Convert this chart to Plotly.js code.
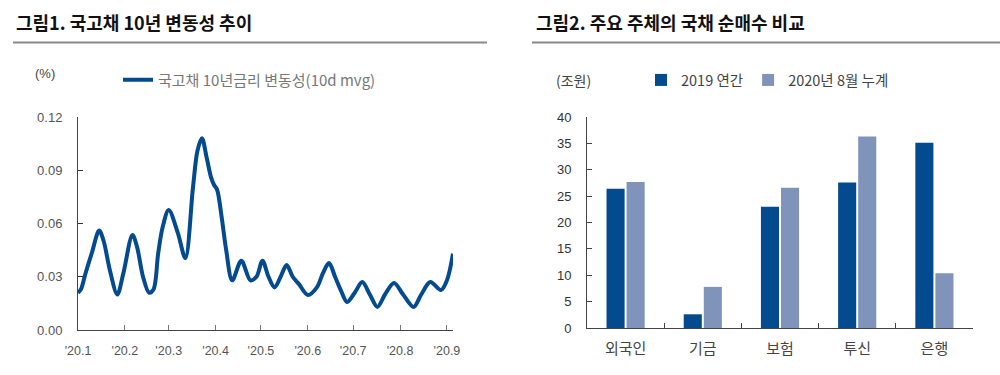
<!DOCTYPE html>
<html><head><meta charset="utf-8">
<script src="https://cdn.plot.ly/plotly-3.0.1.min.js"></script>
<style>html,body{margin:0;padding:0;background:#fff}#chart{width:1000px;height:375px}</style>
</head><body><div id="chart"></div>
<script>
// Figure 1: 10y KTB volatility (10d moving avg), %
const volDates = [
  '2020-01-01','2020-01-03','2020-01-06','2020-01-10','2020-01-15','2020-01-18','2020-01-22','2020-01-27','2020-01-31',
  '2020-02-06','2020-02-09','2020-02-13','2020-02-17','2020-02-20','2020-02-23','2020-02-26',
  '2020-03-01','2020-03-07','2020-03-12','2020-03-17','2020-03-20','2020-03-23','2020-03-26','2020-03-29','2020-03-31',
  '2020-04-02','2020-04-05','2020-04-08','2020-04-12','2020-04-18','2020-04-24','2020-04-28',
  '2020-05-02','2020-05-06','2020-05-10','2020-05-14','2020-05-18','2020-05-22','2020-05-26',
  '2020-06-01','2020-06-07','2020-06-11','2020-06-15','2020-06-19','2020-06-23','2020-06-27',
  '2020-07-02','2020-07-07','2020-07-12','2020-07-17','2020-07-22','2020-07-28',
  '2020-08-03','2020-08-10','2020-08-15','2020-08-21','2020-08-28','2020-09-01','2020-09-05'
];
const volValues = [
  0.021,0.023,0.032,0.043,0.056,0.050,0.034,0.020,0.032,
  0.0535,0.047,0.030,0.021,0.023,0.043,0.058,
  0.0676,0.0547,0.0405,0.080,0.101,0.108,0.0975,0.086,0.0817,
  0.079,0.0636,0.045,0.028,0.039,0.028,0.030,
  0.039,0.030,0.024,0.030,0.0366,0.030,0.026,
  0.0197,0.024,0.032,0.0377,0.030,0.022,0.0158,
  0.021,0.027,0.020,0.013,0.020,0.0265,
  0.020,0.013,0.020,0.027,0.0225,0.028,0.043
];
const monthTickVals = ['2020-01-01','2020-02-01','2020-03-01','2020-04-01','2020-05-01','2020-06-01','2020-07-01','2020-08-01','2020-09-01'];
const monthTickText = ["'20.1","'20.2","'20.3","'20.4","'20.5","'20.6","'20.7","'20.8","'20.9"];
const volTickVals = [0, 0.03, 0.06, 0.09, 0.12];

// Figure 2: net purchases of government bonds by investor (trillion KRW)
const categories = ['외국인','기금','보험','투신','은행'];
const buy2019 = [26.4, 2.6, 23.0, 27.6, 35.1];
const buy2020Aug = [27.7, 7.8, 26.6, 36.3, 10.4];

const DARK = '#034a8e';
const LIGHT = '#7f93bb';
const KFONT = '"Noto Sans CJK KR", "Noto Sans", sans-serif';
const NFONT = '"Liberation Sans", Arial, sans-serif';

const traces = [
  {x: volDates, y: volValues, type: 'scatter', mode: 'lines', name: '국고채 10년금리 변동성(10d mvg)',
   line: {color: DARK, width: 4, shape: 'spline', smoothing: 0.9}, xaxis: 'x', yaxis: 'y', legend: 'legend'},
  {x: categories, y: buy2019, type: 'bar', name: '2019 연간', marker: {color: DARK},
   xaxis: 'x2', yaxis: 'y2', legend: 'legend2'},
  {x: categories, y: buy2020Aug, type: 'bar', name: '2020년 8월 누계', marker: {color: LIGHT},
   xaxis: 'x2', yaxis: 'y2', legend: 'legend2'}
];

const W = 1000, H = 375;
const px = v => v / W, py = v => 1 - v / H;

const layout = {
  width: W, height: H,
  margin: {l: 0, r: 0, t: 0, b: 0},
  paper_bgcolor: '#fff', plot_bgcolor: '#fff',
  barmode: 'group', bargap: 0.48, bargroupgap: 0.1,
  font: {family: NFONT, size: 13, color: '#555'},
  xaxis: {
    type: 'date', domain: [px(78), px(453)], anchor: 'y',
    range: ['2020-01-01', '2020-09-05'],
    tickmode: 'array', tickvals: monthTickVals, ticktext: monthTickText,
    ticks: 'inside', ticklen: 5, tickcolor: '#777', tickwidth: 1,
    showline: true, linecolor: '#444', linewidth: 1,
    showgrid: false, zeroline: false, ticklabelstandoff: 9,
    tickfont: {family: NFONT, size: 12.5, color: '#555'}
  },
  yaxis: {
    domain: [py(330), py(117)], anchor: 'x',
    range: [0, 0.12], tickmode: 'array', tickvals: volTickVals, tickformat: '.2f',
    ticks: 'inside', ticklen: 5, tickcolor: '#333', tickwidth: 1,
    showline: true, linecolor: '#444', linewidth: 1,
    showgrid: false, zeroline: false, ticklabelstandoff: 12,
    tickfont: {family: NFONT, size: 13, color: '#555'}
  },
  xaxis2: {
    type: 'category', domain: [px(587), px(973)], anchor: 'y2',
    tickson: 'boundaries', ticks: 'inside', ticklen: 5, tickcolor: '#444',
    showline: true, linecolor: '#444', linewidth: 1,
    showgrid: false, zeroline: false, ticklabelstandoff: 7,
    tickfont: {family: KFONT, size: 15, color: '#444'}
  },
  yaxis2: {
    domain: [py(328), py(117)], anchor: 'x2',
    range: [0, 40], dtick: 5,
    ticks: 'inside', ticklen: 5, tickcolor: '#444',
    showline: true, linecolor: '#444', linewidth: 1,
    showgrid: false, zeroline: false, ticklabelstandoff: 12,
    tickfont: {family: NFONT, size: 13, color: '#333'}
  },
  showlegend: true,
  legend: {
    x: px(118), y: py(80), xanchor: 'left', yanchor: 'middle', orientation: 'h',
    bgcolor: 'rgba(0,0,0,0)', font: {family: KFONT, size: 15, color: '#777'}
  },
  legend2: {
    x: px(641), y: py(80), xanchor: 'left', yanchor: 'middle', orientation: 'h',
    bgcolor: 'rgba(0,0,0,0)', font: {family: KFONT, size: 14.5, color: '#444'}, itemwidth: 30
  },
  shapes: [
    {type: 'line', xref: 'paper', yref: 'paper', x0: px(13), x1: px(487), y0: py(42.5), y1: py(42.5),
     line: {color: '#8a8a8a', width: 2}},
    {type: 'line', xref: 'paper', yref: 'paper', x0: px(532), x1: px(1000), y0: py(42.5), y1: py(42.5),
     line: {color: '#8a8a8a', width: 2}}
  ],
  annotations: [
    {text: '<b>그림1. 국고채 10년 변동성 추이</b>', xref: 'paper', yref: 'paper', x: px(14), y: py(22),
     xanchor: 'left', yanchor: 'middle', showarrow: false, font: {family: KFONT, size: 18, color: '#111'}},
    {text: '<b>그림2. 주요 주체의 국채 순매수 비교</b>', xref: 'paper', yref: 'paper', x: px(534), y: py(22),
     xanchor: 'left', yanchor: 'middle', showarrow: false, font: {family: KFONT, size: 18, color: '#111'}},
    {text: '(%)', xref: 'paper', yref: 'paper', x: px(33), y: py(73),
     xanchor: 'left', yanchor: 'middle', showarrow: false, font: {family: NFONT, size: 13, color: '#444'}},
    {text: '(조원)', xref: 'paper', yref: 'paper', x: px(554), y: py(80),
     xanchor: 'left', yanchor: 'middle', showarrow: false, font: {family: KFONT, size: 14, color: '#444'}}
  ]
};

Plotly.newPlot('chart', traces, layout, {displayModeBar: false, staticPlot: true});
</script>
</body></html>
